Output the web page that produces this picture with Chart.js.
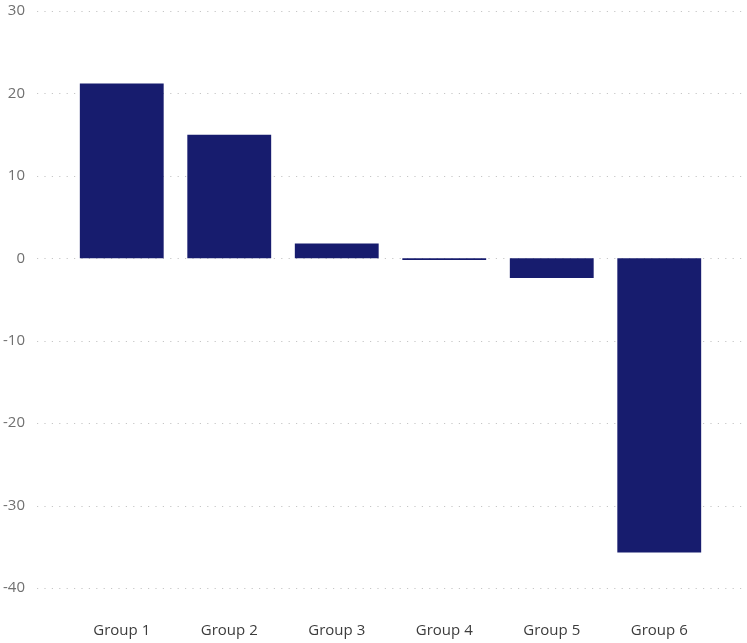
<!DOCTYPE html>
<html>
<head>
<meta charset="utf-8">
<script src="https://cdn.jsdelivr.net/npm/chart.js@4"></script>
<style>
  html, body { margin: 0; padding: 0; background: #fff; }
  .wrap { width: 747px; height: 643px; }
</style>
</head>
<body>
<div class="wrap"><canvas id="c"></canvas></div>
<script>
const groups = ['Group 1', 'Group 2', 'Group 3', 'Group 4', 'Group 5', 'Group 6'];
const values = [21.2, 15.0, 1.8, -0.2, -2.4, -35.7];
const yTicks = [30, 20, 10, 0, -10, -20, -30, -40];

// dotted horizontal lines that run past the plot area, like the original
const dottedGrid = {
  id: 'dottedGrid',
  beforeDatasetsDraw(chart) {
    const { ctx, chartArea, scales } = chart;
    ctx.save();
    ctx.strokeStyle = '#c6c6c6';
    ctx.lineWidth = 1;
    ctx.setLineDash([1.2, 6.2]);
    yTicks.forEach(v => {
      const y = Math.round(scales.y.getPixelForValue(v)) + 0.5;
      ctx.beginPath();
      ctx.moveTo(chartArea.left - 31, y);
      ctx.lineTo(chart.width - 2, y);
      ctx.stroke();
    });
    ctx.restore();
  }
};

new Chart(document.getElementById('c'), {
  type: 'bar',
  data: {
    labels: groups,
    datasets: [{
      data: values,
      backgroundColor: '#171c6e',
      barPercentage: 0.78,
      categoryPercentage: 1
    }]
  },
  plugins: [dottedGrid],
  options: {
    responsive: true,
    maintainAspectRatio: false,
    animation: false,
    layout: { padding: { top: 11, right: 34, bottom: 3, left: 0 } },
    plugins: {
      legend: { display: false },
      tooltip: { enabled: false }
    },
    scales: {
      x: {
        afterFit: s => { s.height = 52; },
        grid: { display: false, drawTicks: false },
        border: { display: false },
        ticks: {
          padding: 34,
          color: '#3c3c3c',
          font: { family: 'Open Sans', size: 15 }
        }
      },
      y: {
        min: -40,
        max: 30,
        afterFit: s => {
          s.width = 68;
          s.paddingTop = 0;
          s.paddingBottom = 0;
        },
        grid: { display: false, drawTicks: false },
        border: { display: false },
        ticks: {
          stepSize: 10,
          padding: 43,
          color: '#707070',
          font: { family: 'Open Sans', size: 15 }
        }
      }
    }
  }
});
</script>
</body>
</html>
